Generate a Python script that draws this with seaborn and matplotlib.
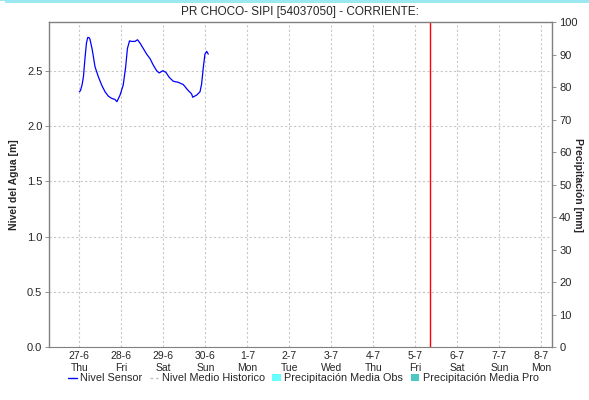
import seaborn as sns
from matplotlib import pyplot as plt
from matplotlib.patches import Patch, Rectangle
from matplotlib.lines import Line2D
import pandas as pd

# sensor readings: hours after 27-6 00:00, level in m
sensor_hours = [0.0, 0.7, 1.7, 2.4, 3.3, 4.1, 4.8, 5.5, 6.1, 7.4, 9.0, 10.9, 12.8, 14.7,
                16.6, 18.5, 20.4, 21.5, 23.3, 25.1, 26.5, 27.5, 28.7, 29.9, 31.8, 33.3,
                34.7, 36.6, 38.5, 40.4, 42.3, 44.2, 45.7, 47.7, 49.5, 51.4, 53.7, 56.6,
                59.4, 62.3, 64.2, 64.8, 67.1, 69.0, 69.9, 70.9, 71.8, 72.8, 73.7]
sensor_level = [2.31, 2.32, 2.38, 2.45, 2.62, 2.75, 2.80, 2.80, 2.785, 2.69, 2.535, 2.445,
                2.37, 2.31, 2.27, 2.25, 2.24, 2.22, 2.28, 2.37, 2.535, 2.70, 2.77, 2.765,
                2.765, 2.78, 2.75, 2.70, 2.65, 2.61, 2.55, 2.50, 2.48, 2.50, 2.485, 2.44,
                2.405, 2.395, 2.375, 2.32, 2.29, 2.26, 2.28, 2.31, 2.38, 2.535, 2.65,
                2.675, 2.65]
historic_level = []
precip_obs = []
precip_pro = []

start = pd.Timestamp('2024-06-27 00:00')
tick_days = pd.date_range('2024-06-27', '2024-07-08', freq='D')
now_time = pd.Timestamp('2024-07-05 08:35')
x_min = pd.Timestamp('2024-06-26 06:52')
x_max = pd.Timestamp('2024-07-08 06:17')

df = pd.DataFrame({'time': start + pd.to_timedelta(sensor_hours, unit='h'),
                   'level': sensor_level})

sns.set_style('white')
plt.rcParams['font.family'] = ['Liberation Sans', 'DejaVu Sans']
plt.rcParams['font.size'] = 8

fig = plt.figure(figsize=(5.89, 4.0), dpi=100)
ax = fig.add_axes([0.0837, 0.132, 0.8540, 0.8123])

sns.lineplot(data=df, x='time', y='level', ax=ax, color='#0000ff', linewidth=0.9)
ax.axvline(now_time, color='#ff0000', linewidth=1.0)

ax.set_xlim(x_min, x_max)
ax.set_ylim(0, 2.938)
ax.set_yticks([0.0, 0.5, 1.0, 1.5, 2.0, 2.5])
ax.set_yticklabels(['0.0', '0.5', '1.0', '1.5', '2.0', '2.5'])
ax.set_xticks(tick_days)
ax.set_xticklabels([d.strftime('%-d-%-m') + '\n' + d.strftime('%a') for d in tick_days],
                   linespacing=1.25)
ax.grid(True, color='#c8c8c8', linestyle=(0, (2, 2)), linewidth=0.8)
ax.set_xlabel('')
ax.set_ylabel('Nivel del Agua [m]', fontsize=7.5, fontweight='bold')
ax.yaxis.set_label_coords(-0.060, 0.5)
ax.tick_params(axis='x', length=0, pad=3, labelsize=7.5)
ax.tick_params(axis='y', length=3, width=0.6, color='#808080', pad=2, labelsize=8, left=True)
for side in ['left', 'right', 'top']:
    ax.spines[side].set_color('#808080')
    ax.spines[side].set_linewidth(1.0)
ax.spines['bottom'].set_color('#808080')
ax.spines['bottom'].set_linestyle((0, (1, 1)))

ax2 = ax.twinx()
ax2.set_ylim(0, 100)
ax2.set_yticks(range(0, 101, 10))
ax2.tick_params(axis='y', length=3, width=0.6, color='#808080', pad=2, labelsize=8, right=True)
ax2.set_ylabel('Precipitación [mm]', fontsize=7.5, fontweight='bold', rotation=270, va='center')
ax2.yaxis.set_label_coords(1.051, 0.5)
for sp in ax2.spines.values():
    sp.set_visible(False)
ax2.grid(False)

fig.suptitle('PR CHOCO- SIPI [54037050] - CORRIENTE:', y=0.985, fontsize=8.5, x=0.51)

handles = [Line2D([0], [0], color='#0000ff', linewidth=1.0),
           Line2D([0], [0], color='#c0c0c0', linestyle=(0, (2, 2)), linewidth=1.0),
           Patch(facecolor='#66ffff', edgecolor='none'),
           Patch(facecolor='#4cc9c3', edgecolor='none')]
labels = ['Nivel Sensor', 'Nivel Medio Historico', 'Precipitación Media Obs', 'Precipitación Media Pro']
fig.legend(handles, labels, loc='center', bbox_to_anchor=(0.515, 0.054), ncol=4, frameon=False,
           fontsize=7.8, handlelength=0.8, handletextpad=0.3, columnspacing=0.7)

fig.patches.append(Rectangle((0.008, 0.992), 0.992, 0.008, transform=fig.transFigure,
                             facecolor='#9be8f0', edgecolor='none', zorder=0))
fig.patches.append(Rectangle((0.0, 0.997), 1.0, 0.003, transform=fig.transFigure,
                             facecolor='#9be8f0', edgecolor='none', zorder=0))

fig.savefig('out.png', dpi=100)
